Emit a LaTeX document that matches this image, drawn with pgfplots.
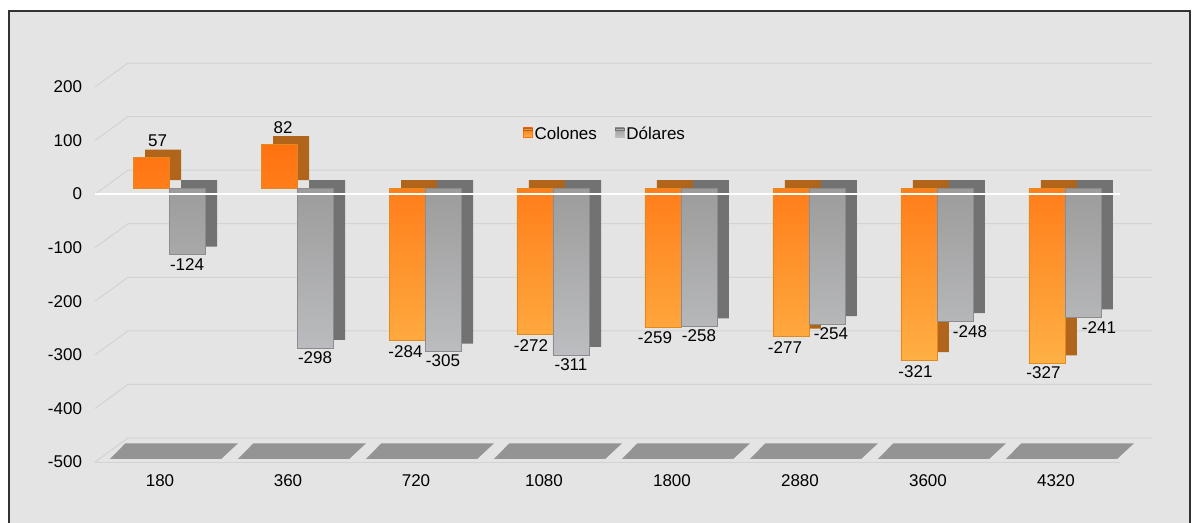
\documentclass[border=0pt]{standalone}
\usepackage{pgfplots}
\pgfplotsset{compat=1.18}
\usepackage{pgfplotstable}
\usepackage{fontspec}
\setmainfont{Liberation Sans}
\definecolor{bg}{HTML}{E3E4E3}
\definecolor{gridc}{HTML}{D2D3D2}
\definecolor{orTop}{HTML}{FF7110}
\definecolor{orBot}{HTML}{FEB044}
\definecolor{orSide}{HTML}{B0651A}
\definecolor{orEdge}{HTML}{E08A20}
\definecolor{grTop}{HTML}{9C9C9C}
\definecolor{grBot}{HTML}{BCBDC0}
\definecolor{grSide}{HTML}{727272}
\definecolor{grEdge}{HTML}{8C8C8C}
\definecolor{floorc}{HTML}{949494}

\pgfplotstableread{
x col dol cdx cdy ddx ddy
0 57 -124 6.5 7 0 0
1 82 -298 4 7 0 0
2 -284 -305 -1.5 -2 0 0
3 -272 -311 -4 -2 0 0
4 -259 -258 -8 -1 0 0
5 -277 -254 -6 -2 4 0
6 -321 -248 -3.5 -2 15 -1
7 -327 -241 -3.5 0 16 -1
}\data

\newcommand{\myfont}{\fontsize{17}{20}\selectfont}

\begin{document}
\begin{tikzpicture}[font=\myfont]
\useasboundingbox (0,0) rectangle (1193pt,522pt);
\fill[white] (0,0) rectangle (1193pt,522pt);
\fill[bg] (9pt,-5pt) rectangle (1190pt,511pt);
\draw[black!80, line width=1.2pt] (9pt,-5pt) rectangle (1190pt,511pt);
\begin{axis}[
  at={(95pt,60pt)}, anchor=south west,
  scale only axis, width=1025pt, height=375pt,
  xmin=-0.508, xmax=7.5, ymin=-500, ymax=200,
  axis line style={draw=none},
  xtick={0,...,7}, xticklabels={180,360,720,1080,1800,2880,3600,4320},
  ytick={-500,-400,...,200},
  major tick length=0pt,
  /pgf/number format/assume math mode=true,
  tick label style={font=\myfont},
  yticklabel style={xshift=-9.5pt},
  xticklabel style={yshift=-9pt},
  clip=false,
  legend style={at={(0.4976,0.875)}, anchor=center, draw=none, fill=none,
    font=\myfont, legend columns=2,
    /tikz/every even column/.append style={column sep=16pt}},
  legend cell align=left,
]
\pgfplotsinvokeforeach{-500,-400,-300,-200,-100,0,100,200}{
  \draw[gridc, line width=1pt] (axis cs:-0.508,#1) -- ++(33pt,24pt) -- ++(1024pt,0pt);
}
\draw[gridc, line width=1pt] (axis cs:-0.508,-500) -- (axis cs:7.5,-500);
\pgfplotsinvokeforeach{0,...,7}{
  \fill[floorc] (axis cs:#1-0.39,-494) -- (axis cs:#1+0.48,-494) -- (axis cs:#1+0.61,-465) -- (axis cs:#1-0.27,-465) -- cycle;
}

% Colones
\addplot[ybar, bar width=36pt, bar shift=-9pt, xshift=12pt, yshift=14pt,
  fill=orSide, draw=none, forget plot] table[x=x,y=col]{\data};
\addplot[ybar, bar width=36pt, bar shift=-9pt, yshift=6pt,
  top color=orTop, bottom color=orBot, draw=orEdge, line width=0.5pt,
  nodes near coords={\pgfmathprintnumber[assume math mode=true]{\pgfplotspointmeta}},
  visualization depends on={\thisrow{cdx}-9 \as \cdx},
  visualization depends on={\thisrow{cdy} \as \cdy},
  every node near coord/.append style={text=black, font=\myfont, xshift=\cdx pt, yshift=\cdy pt},
  legend image code/.code={\fill[orTop] (0pt,-9pt) rectangle (9pt,0pt);\fill[orSide] (0pt,-2pt) rectangle (9pt,0pt);}
] table[x=x,y=col]{\data};
\addlegendentry{Colones}

% Dolares
\addplot[ybar, bar width=36pt, bar shift=27pt, xshift=12pt, yshift=14pt,
  fill=grSide, draw=none, forget plot] table[x=x,y=dol]{\data};
\addplot[ybar, bar width=36pt, bar shift=27pt, yshift=6pt,
  top color=grTop, bottom color=grBot, draw=grEdge, line width=0.5pt,
  nodes near coords={\pgfmathprintnumber[assume math mode=true]{\pgfplotspointmeta}},
  visualization depends on={\thisrow{ddx}+27 \as \ddx},
  visualization depends on={\thisrow{ddy} \as \ddy},
  every node near coord/.append style={text=black, font=\myfont, xshift=\ddx pt, yshift=\ddy pt},
  legend image code/.code={\fill[grBot] (0pt,-9pt) rectangle (9pt,0pt);\fill[grSide] (0pt,-2pt) rectangle (9pt,0pt);}
] table[x=x,y=dol]{\data};
\addlegendentry{D\'olares}

\draw[white, line width=1.3pt] (axis cs:-0.508,0) -- (axis cs:7.5,0);
\end{axis}
\end{tikzpicture}
\end{document}
